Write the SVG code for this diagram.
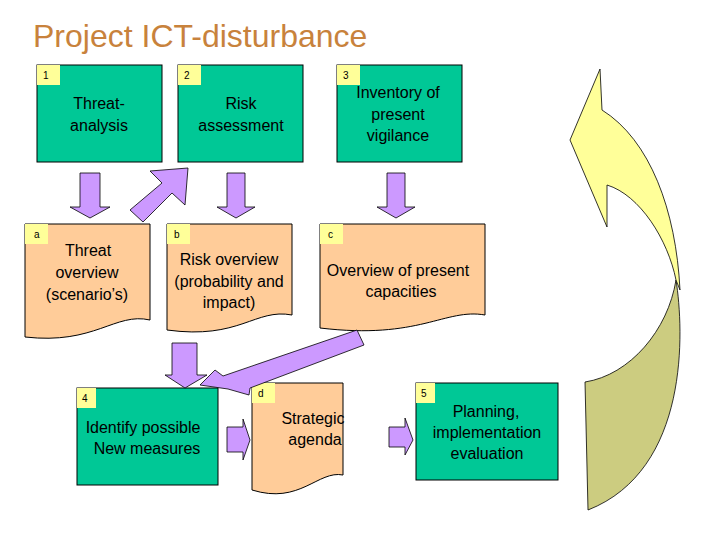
<svg xmlns="http://www.w3.org/2000/svg" width="720" height="540" viewBox="0 0 720 540">
<style>
text{font-family:"Liberation Sans",Arial,sans-serif;fill:#000}
.g{fill:#00c896;stroke:#000;stroke-width:1}
.o{fill:#ffcc99;stroke:#000;stroke-width:1}
.y{fill:#ffff99}
.t{font-size:16px;text-anchor:middle}
.n{font-size:10px}
.p{fill:#cc99ff;stroke:#000;stroke-width:0.8}
</style>
<rect width="720" height="540" fill="#fff"/>
<text x="33" y="47" style="font-size:32px;fill:#c8823c">Project  ICT-disturbance</text>
<g id="n1"><rect class="g" x="37" y="65" width="125" height="97"/><rect class="y" x="37" y="65" width="23" height="20"/><text class="n" x="43" y="79">1</text><text class="t" x="99" y="109">Threat-</text><text class="t" x="99" y="131">analysis</text></g>
<g id="n2"><rect class="g" x="178" y="65" width="125" height="97"/><rect class="y" x="178" y="65" width="23" height="20"/><text class="n" x="184" y="79">2</text><text class="t" x="241" y="109">Risk</text><text class="t" x="241" y="131">assessment</text></g>
<g id="n3"><rect class="g" x="337" y="65" width="125" height="97"/><rect class="y" x="337" y="65" width="23" height="20"/><text class="n" x="343" y="79">3</text><text class="t" x="398" y="98">Inventory of</text><text class="t" x="398" y="120">present</text><text class="t" x="398" y="141">vigilance</text></g>
<g id="na"><path class="o" d="M25 224H150V320C115 312 95 345 25 337Z"/><rect class="y" x="25" y="224" width="23" height="20"/><text class="n" x="34" y="238">a</text><text class="t" x="88" y="256">Threat</text><text class="t" x="87" y="278">overview</text><text class="t" x="87" y="300">(scenario’s)</text></g>
<g id="nb"><path class="o" d="M167 224H292V315C255 308 240 340 167 330Z"/><rect class="y" x="167" y="224" width="23" height="20"/><text class="n" x="174" y="238">b</text><text class="t" x="229" y="265">Risk overview</text><text class="t" x="229" y="287">(probability and</text><text class="t" x="229" y="308">impact)</text></g>
<g id="nc"><path class="o" d="M320 224H485V315C445 308 420 340 320 328Z"/><rect class="y" x="320" y="224" width="23" height="20"/><text class="n" x="328" y="238">c</text><text class="t" x="398" y="276">Overview of present</text><text class="t" x="401" y="297">capacities</text></g>
<g id="n4"><rect class="g" x="77" y="388" width="141" height="97"/><rect class="y" x="77" y="388" width="19" height="20"/><text class="n" x="82" y="402">4</text><text class="t" x="143" y="433">Identify possible</text><text class="t" x="147" y="454">New measures</text></g>
<g id="nd"><path class="o" d="M252 383H343V475C318 470 300 505 252 490Z"/><rect class="y" x="252" y="383" width="23" height="20"/><text class="n" x="258" y="397">d</text><text class="t" x="313" y="424">Strategic</text><text class="t" x="315" y="445">agenda</text></g>
<g id="n5"><rect class="g" x="416" y="383" width="142" height="97"/><rect class="y" x="416" y="383" width="19" height="20"/><text class="n" x="421" y="397">5</text><text class="t" x="486" y="417">Planning,</text><text class="t" x="487" y="438">implementation</text><text class="t" x="487" y="459">evaluation</text></g>
<g id="connectors">
<path class="p" d="M80 173H100V207H110L90 218L70 207H80Z"/>
<path class="p" d="M227 173H245V207H255L236 218L217 207H227Z"/>
<path class="p" d="M387 173H405V207H415L396 218L377 207H387Z"/>
<path class="p" d="M130 210L143 222L172 193L185 205L188 168L150 171L162 183Z"/>
<path class="p" d="M172 343H197V375H207L185 388L165 375H172Z"/>
<path class="p" d="M357 330L364 345L250 388L249 395L228 389L200 385L215 370L223 376Z"/>
<path class="p" d="M194 385Z"/>
<path class="p" d="M227 427H243V419L250 440L243 460V452H227Z"/>
<path class="p" d="M389 427H405V418L413 440L405 455V447H389Z"/>
<path d="M676 280C684 330 690 470 588 510L585 382C630 375 668 330 676 280Z" fill="#cccc80" stroke="#000" stroke-width="0.8"/>
<path d="M600 69L602 110C650 140 676 210 680 290L676 280C668 240 640 195 607 185L607 227L570 140Z" fill="#ffff99" stroke="#000" stroke-width="0.8"/>
</g>
</svg>
